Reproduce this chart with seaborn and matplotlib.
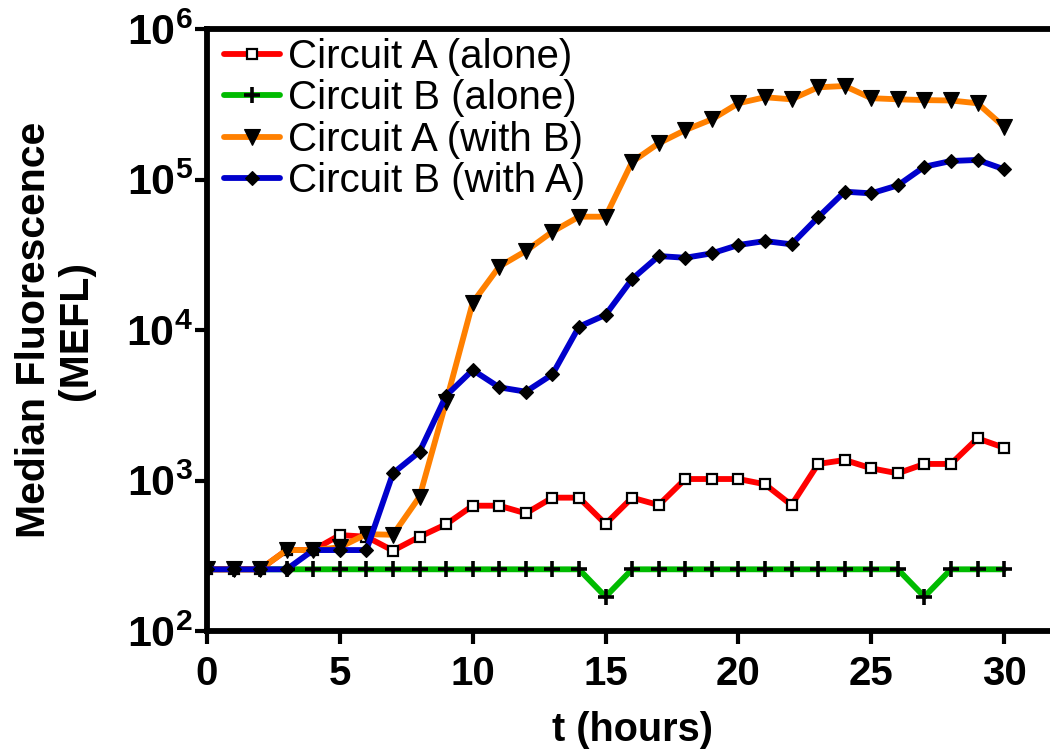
import pandas as pd
import matplotlib
matplotlib.use("Agg")
import matplotlib.pyplot as plt
import seaborn as sns

# ── Data ──────────────────────────────────────────────────────────────────────
hours = list(range(31))
a_alone = [257, 257, 257, 345, 345, 434, 423, 342, 423, 512, 680, 680, 605, 769, 769,
           514, 769, 687, 1023, 1023, 1023, 944, 687, 1288, 1369, 1205, 1116, 1288,
           1288, 1905, 1651]
b_alone = [257, 257, 257, 257, 257, 257, 257, 257, 257, 257, 257, 257, 257, 257, 257,
           169, 257, 257, 257, 257, 257, 257, 257, 257, 257, 257, 257, 169, 257, 257, 257]
a_with_b = [257, 257, 257, 345, 345, 360, 440, 436, 780, 3340, 15200, 26400, 33500,
            45000, 56600, 56600, 131000, 174000, 213000, 251000, 321000, 352000,
            341000, 410000, 418000, 347000, 341000, 337000, 335000, 321000, 224000]
b_with_a = [257, 257, 257, 257, 345, 345, 345, 1116, 1553, 3665, 5420, 4160, 3890,
            5070, 10520, 12600, 21800, 31000, 30200, 32300, 36700, 39000, 37100,
            56100, 83000, 80900, 91400, 121600, 132700, 134900, 116900]

series_names = ["Circuit A (alone)", "Circuit B (alone)",
                "Circuit A (with B)", "Circuit B (with A)"]
series_values = [a_alone, b_alone, a_with_b, b_with_a]

STYLES = {
    "Circuit A (alone)":  dict(color="#FF0000", marker="s", markersize=7.5,
                               markerfacecolor="white", markeredgecolor="black",
                               markeredgewidth=1.6, zorder=3),
    "Circuit B (alone)":  dict(color="#00BB00", marker="+", markersize=12,
                               markeredgecolor="black", markeredgewidth=2.6, zorder=2),
    "Circuit A (with B)": dict(color="#FF8000", marker="v", markersize=11,
                               markerfacecolor="black", markeredgecolor="black",
                               markeredgewidth=0.8, zorder=4),
    "Circuit B (with A)": dict(color="#0000CC", marker="D", markersize=7.5,
                               markerfacecolor="black", markeredgecolor="black",
                               markeredgewidth=0.8, zorder=5),
}

df = pd.concat(
    [pd.DataFrame({"t": hours, "value": vals, "series": name})
     for name, vals in zip(series_names, series_values)],
    ignore_index=True,
)

sns.set_theme(style="ticks")
plt.rcParams.update({
    "font.family": ["Liberation Sans", "DejaVu Sans"],
    "mathtext.fontset": "custom",
    "mathtext.rm": "Liberation Sans:bold",
    "mathtext.bf": "Liberation Sans:bold",
    "axes.linewidth": 4.2,
    "axes.edgecolor": "black",
    "text.color": "black",
    "xtick.color": "black",
    "ytick.color": "black",
    "axes.labelcolor": "black",
})

fig = plt.figure(figsize=(10.5, 7.52), dpi=100)
ax = fig.add_axes([207 / 1050, 121 / 752, 843 / 1050, 602 / 752])

for name in series_names:
    st = STYLES[name]
    sns.lineplot(data=df[df["series"] == name], x="t", y="value", ax=ax,
                 label=name, linewidth=4.2, estimator=None, **st)

ax.set_yscale("log")
ax.set_ylim(1e2, 1e6)
ax.set_xlim(0, 843 / 26.57)
ax.set_xticks([0, 5, 10, 15, 20, 25, 30])
ax.set_yticks([1e2, 1e3, 1e4, 1e5, 1e6])
ax.set_yticklabels([r"$\mathbf{10^{%d}}$" % e for e in [2, 3, 4, 5, 6]])
ax.yaxis.set_minor_locator(matplotlib.ticker.NullLocator())
ax.tick_params(axis="y", which="major", length=9, width=3, pad=1, labelsize=31)
ax.tick_params(axis="x", which="major", length=9, width=3, pad=8, labelsize=29)
for lab in ax.get_xticklabels():
    lab.set_fontweight("bold")

ax.spines["right"].set_visible(False)
ax.set_xlabel("")
ax.set_ylabel("")

fig.text(55 / 1050, 1 - 330 / 752, "Median Fluorescence\n(MEFL)", rotation=90,
         ha="center", va="center", fontsize=29.5, fontweight="bold",
         multialignment="center", linespacing=1.15)
fig.text(632 / 1050, 1 - 730 / 752, "t (hours)", ha="center", va="center",
         fontsize=28.5, fontweight="bold")

ax.legend(loc="upper left", bbox_to_anchor=(0.0105, 0.998), frameon=False,
          fontsize=29, handlelength=1.4, handletextpad=0.2, labelspacing=0.08,
          borderaxespad=0.0, borderpad=0.2)

fig.savefig("out.png", dpi=100, facecolor="white")
